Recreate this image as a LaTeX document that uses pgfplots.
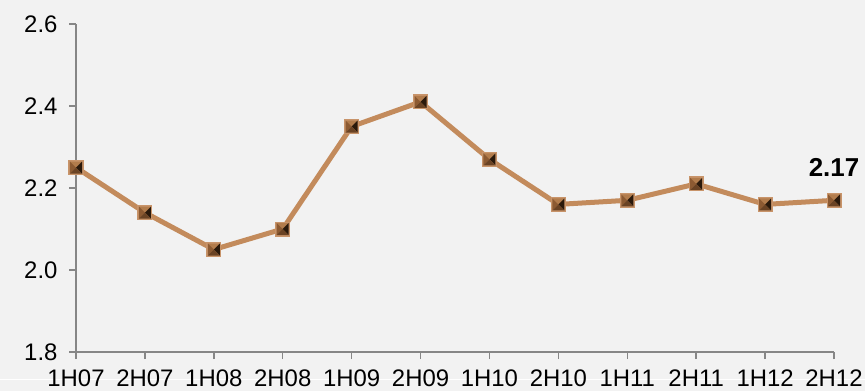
\documentclass[border=0pt]{standalone}
\usepackage{pgfplots}
\pgfplotsset{compat=1.18}
\usepackage{fontspec}
\setmainfont{Liberation Sans}
\definecolor{bg}{HTML}{F2F2F2}
\definecolor{axgray}{HTML}{868686}
\definecolor{linec}{HTML}{C38B5C}
\definecolor{mframe}{HTML}{C8946A}
\definecolor{mtop}{HTML}{B27C4C}
\definecolor{mleft}{HTML}{8C5A32}
\definecolor{mright}{HTML}{2A190B}
\definecolor{mbot}{HTML}{6A4324}
\newlength{\mk}
\pgfdeclareplotmark{pyr}{%
  \pgfsetfillcolor{mframe}%
  \pgfpathrectanglecorners{\pgfqpoint{-\pgfplotmarksize}{-\pgfplotmarksize}}{\pgfqpoint{\pgfplotmarksize}{\pgfplotmarksize}}%
  \pgfusepath{fill}%
  \setlength{\mk}{0.8\pgfplotmarksize}%
  \pgfsetfillcolor{mtop}%
  \pgfpathmoveto{\pgfqpoint{-\mk}{\mk}}%
  \pgfpathlineto{\pgfqpoint{\mk}{\mk}}%
  \pgfpathlineto{\pgfpointorigin}\pgfpathclose\pgfusepath{fill}%
  \pgfsetfillcolor{mleft}%
  \pgfpathmoveto{\pgfqpoint{-\mk}{\mk}}%
  \pgfpathlineto{\pgfqpoint{-\mk}{-\mk}}%
  \pgfpathlineto{\pgfpointorigin}\pgfpathclose\pgfusepath{fill}%
  \pgfsetfillcolor{mright}%
  \pgfpathmoveto{\pgfqpoint{\mk}{\mk}}%
  \pgfpathlineto{\pgfqpoint{\mk}{-\mk}}%
  \pgfpathlineto{\pgfpointorigin}\pgfpathclose\pgfusepath{fill}%
  \pgfsetfillcolor{mbot}%
  \pgfpathmoveto{\pgfqpoint{-\mk}{-\mk}}%
  \pgfpathlineto{\pgfqpoint{\mk}{-\mk}}%
  \pgfpathlineto{\pgfpointorigin}\pgfpathclose\pgfusepath{fill}%
}
\begin{document}
\begin{tikzpicture}
\fill[bg] (-76bp,-39bp) rectangle (789bp,352bp);
\draw[white, line width=1bp] (-76bp,-27bp) -- (789bp,-27bp);
\begin{axis}[
  at={(0,0)}, anchor=south west,
  scale only axis,
  width=758bp, height=328bp,
  xmin=0, xmax=11, ymin=1.8, ymax=2.6,
  xtick={0,...,11},
  xticklabels={1H07,2H07,1H08,2H08,1H09,2H09,1H10,2H10,1H11,2H11,1H12,2H12},
  ytick={1.8,2.0,2.2,2.4,2.6},
  /pgf/number format/fixed,
  /pgf/number format/fixed zerofill,
  /pgf/number format/precision=1,
  /pgf/number format/assume math mode=true,
  axis x line*=bottom, axis y line*=left,
  axis line style={axgray, line width=1.5bp},
  every tick/.style={axgray, line width=1.5bp},
  tick align=outside, major tick length=7bp,
  tick label style={font=\fontsize{24}{24}\selectfont, black},
  xticklabel style={yshift=-6bp, text height=18bp, text depth=0pt},
  yticklabel style={xshift=-8bp},
  clip=false,
  axis background/.style={fill=bg},
]
\addplot[linec, line width=5bp, mark=pyr, mark size=7.5bp] coordinates {
(0,2.25) (1,2.14) (2,2.05) (3,2.10) (4,2.35) (5,2.41) (6,2.27) (7,2.16) (8,2.17) (9,2.21) (10,2.16) (11,2.17)};
\node[anchor=south, font=\fontsize{26}{26}\selectfont\bfseries, inner sep=0pt, yshift=24bp] at (axis cs:11,2.17) {2.17};
\end{axis}
\pgfresetboundingbox
\path[use as bounding box] (-76bp,-39bp) rectangle (789bp,352bp);
\end{tikzpicture}
\end{document}
